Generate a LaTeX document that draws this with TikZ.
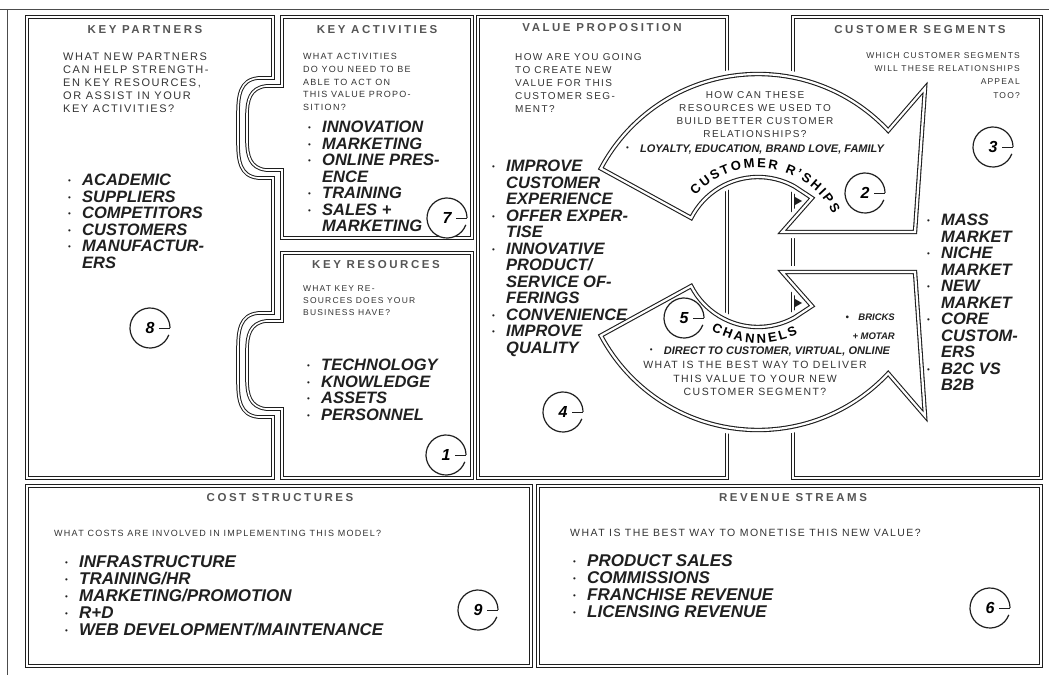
\documentclass[tikz,border=0pt]{standalone}
\usepackage{fontspec}
\setmainfont{Liberation Sans}
\newfontfamily\headfont[LetterSpace=22]{Liberation Sans}
\newfontfamily\handfont[LetterSpace=14]{Liberation Sans}
\usetikzlibrary{decorations.text}

\definecolor{cLine}{HTML}{1E1E1E}
\definecolor{cHead}{HTML}{555555}
\definecolor{cHand}{HTML}{333333}
\definecolor{cItem}{HTML}{202020}

\newcommand\bul{\makebox[14pt][l]{\raisebox{2pt}{\normalfont\fontsize{8}{8}\selectfont\textbullet}}}
\newcommand\nob{\hspace*{14pt}}
\newcommand\arcfont{\bfseries\fontsize{13}{13}\selectfont}

\tikzset{
  panel/.style={draw=cLine, line width=1pt, double=white, double distance=1.6pt},
  halo/.style={draw=white, fill=white, line width=12pt},
  band/.style={draw=cLine, fill=white, line width=1.1pt, double=white, double distance=2.2pt},
  frameline/.style={draw=black!70, line width=0.8pt},
  ttl/.style={font=\headfont\bfseries\fontsize{11.5}{12}\selectfont, text=cHead, inner sep=0pt},
  ask/.style args={#1/#2}{font=\handfont\fontsize{#1}{#2}\selectfont, text=cHand, align=left, inner sep=0pt, anchor=north west},
  items/.style={font=\bfseries\itshape\fontsize{16.5}{16.5}\selectfont, text=cItem, align=left, inner sep=0pt, anchor=north west},
  bigitems/.style={items, font=\bfseries\itshape\fontsize{17}{17.2}\selectfont},
  bandtext/.style={font=\bfseries\itshape\fontsize{11}{12}\selectfont, text=cItem, inner sep=0pt},
  stepno/.style={circle, minimum size=40pt, inner sep=0pt, font=\bfseries\itshape\fontsize{16}{16}\selectfont},
  stepring/.style={draw=cLine, line width=1.2pt},
}

% numbered ring: options, name, centre, number
\newcommand\stepmark[4][]{%
  \node[stepno, #1] (#2) at (#3) {#4};
  \draw[stepring] (#3) ++(20:20) arc[start angle=20, end angle=360, radius=20];
  \draw[stepring, line width=0.8pt] (#3) ++(9,0) -- ++(11,0);
}

\begin{document}
\begin{tikzpicture}[x=1pt, y=-1pt]
  \useasboundingbox (0,0) rectangle (1049,675);
  % page frame
  \draw[frameline] (0,9) -- (1049,9);
  \draw[frameline] (7,9) -- (7,675);

  % panels
  \draw[panel] (27,17) -- (273,17) -- (273,78) -- (258,78) .. controls (240,80) and (238,95) .. (238,115) -- (238,141) .. controls (238,161) and (240,176) .. (258,178) -- (273,178) -- (273,313) -- (258,313) .. controls (240,315) and (238,330) .. (238,350) -- (238,380) .. controls (238,400) and (240,415) .. (258,417) -- (273,417) -- (273,478) -- (27,478) -- cycle;
  \draw[panel] (282,17) -- (472,17) -- (472,238) -- (282,238) -- (282,170) -- (266,170) .. controls (250,168) and (247,156) .. (247,140) -- (247,116) .. controls (247,100) and (250,88) .. (266,86) -- (282,86) -- cycle;
  \draw[panel] (282,253) -- (472,253) -- (472,478) -- (282,478) -- (282,409) -- (266,409) .. controls (250,407) and (247,395) .. (247,379) -- (247,351) .. controls (247,335) and (250,323) .. (266,321) -- (282,321) -- cycle;
  \draw[panel] (478,17) rectangle (727,478);
  \draw[panel] (793,17) rectangle (1041,478);
  \draw[panel] (27,486) rectangle (531,666);
  \draw[panel] (538,486) rectangle (1041,666);

  % curved arrows
  \foreach \fl in {1,-1}
    \draw[band, preaction={halo}, shift={(758,252)}, yscale=\fl] (-152:178) arc[start angle=-152, end angle=-43, radius=178] -- (167,-164) -- (157,-20) -- (24,-20) -- (54,-54) -- (-61:75) arc[start angle=-61, end angle=-153, radius=75] -- cycle;
  \fill[cLine] (795,197) -- (802,201) -- (795,205) -- cycle;
  \fill[cLine] (795,299) -- (802,303) -- (795,307) -- cycle;
  \path[decorate, decoration={text along path, text={|\arcfont|CUSTOMER R'SHIPS}, text align=fit to path}] (758,252) ++(-138:84) arc[start angle=-138, end angle=-27, radius=84];
  \path[decorate, decoration={text along path, text={|\arcfont|CHANNELS}, text align=fit to path}] (758,252) ++(121:91) arc[start angle=121, end angle=64, radius=91];

  % titles
  \node[ttl] (kpTitle) at (145,30) {KEY PARTNERS};
  \node[ttl] (kaTitle) at (377,30) {KEY ACTIVITIES};
  \node[ttl] (krTitle) at (376,265) {KEY RESOURCES};
  \node[ttl] (vpTitle) at (602,28) {VALUE PROPOSITION};
  \node[ttl] (csTitle) at (920,30) {CUSTOMER SEGMENTS};
  \node[ttl] (costTitle) at (280,498) {COST STRUCTURES};
  \node[ttl] (revTitle) at (793,498) {REVENUE STREAMS};

  % questions
  \node[ask=11/13] (kpAsk) at (63,53) {WHAT NEW PARTNERS\\CAN HELP STRENGTH-\\EN KEY RESOURCES,\\OR ASSIST IN YOUR\\KEY ACTIVITIES?};
  \node[ask=9/12.8] (kaAsk) at (303,53) {WHAT ACTIVITIES\\DO YOU NEED TO BE\\ABLE TO ACT ON\\THIS VALUE PROPO-\\SITION?};
  \node[ask=8.5/12] (krAsk) at (303,285) {WHAT KEY RE-\\SOURCES DOES YOUR\\BUSINESS HAVE?};
  \node[ask=10/13] (vpAsk) at (515,53) {HOW ARE YOU GOING\\TO CREATE NEW\\VALUE FOR THIS\\CUSTOMER SEG-\\MENT?};
  \node[ask=8.5/13.3, anchor=north east, align=right] (csAsk) at (1020,52) {WHICH CUSTOMER SEGMENTS\\WILL THESE RELATIONSHIPS\\APPEAL\\TOO?};
  \node[ask=9/12] (costAsk) at (54,530) {WHAT COSTS ARE INVOLVED IN IMPLEMENTING THIS MODEL?};
  \node[ask=10.5/12] (revAsk) at (570,529) {WHAT IS THE BEST WAY TO MONETISE THIS NEW VALUE?};
  \node[ask=10/13, anchor=north, align=center] (crAsk) at (755,91) {HOW CAN THESE\\RESOURCES WE USED TO\\BUILD BETTER CUSTOMER\\RELATIONSHIPS?};
  \node[ask=10.5/13.5, anchor=north, align=center] (chAsk) at (755,361) {WHAT IS THE BEST WAY TO DELIVER\\THIS VALUE TO YOUR NEW\\CUSTOMER SEGMENT?};

  % answers
  \node[items] (kpList) at (68,174) {\bul ACADEMIC\\\bul SUPPLIERS\\\bul COMPETITORS\\\bul CUSTOMERS\\\bul MANUFACTUR-\\\nob ERS};
  \node[items] (kaList) at (308,121) {\bul INNOVATION\\\bul MARKETING\\\bul ONLINE PRES-\\\nob ENCE\\\bul TRAINING\\\bul SALES +\\\nob MARKETING};
  \node[items] (krList) at (307,359) {\bul TECHNOLOGY\\\bul KNOWLEDGE\\\bul ASSETS\\\bul PERSONNEL};
  \node[items] (vpList) at (492,160) {\bul IMPROVE\\\nob CUSTOMER\\\nob EXPERIENCE\\\bul OFFER EXPER-\\\nob TISE\\\bul INNOVATIVE\\\nob PRODUCT/\\\nob SERVICE OF-\\\nob FERINGS\\\bul CONVENIENCE\\\bul IMPROVE\\\nob QUALITY};
  \node[items] (csList) at (927,214) {\bul MASS\\\nob MARKET\\\bul NICHE\\\nob MARKET\\\bul NEW\\\nob MARKET\\\bul CORE\\\nob CUSTOM-\\\nob ERS\\\bul B2C VS\\\nob B2B};
  \node[bigitems] (costList) at (65,555) {\bul INFRASTRUCTURE\\\bul TRAINING/HR\\\bul MARKETING/PROMOTION\\\bul R+D\\\bul WEB DEVELOPMENT/MAINTENANCE};
  \node[bigitems] (revList) at (573,554) {\bul PRODUCT SALES\\\bul COMMISSIONS\\\bul FRANCHISE REVENUE\\\bul LICENSING REVENUE};
  \node[bandtext] (crList) at (755,150) {\bul LOYALTY, EDUCATION, BRAND LOVE, FAMILY};
  \node[bandtext] (chList) at (770,352) {\bul DIRECT TO CUSTOMER, VIRTUAL, ONLINE};
  \node[bandtext, font=\bfseries\itshape\fontsize{9.5}{19}\selectfont, anchor=north east, align=right] (chExtra) at (895,314) {\textbullet\quad BRICKS\\+ MOTAR};

  % numbered rings
  \stepmark{kpNo}{150,328}{8}
  \stepmark[fill=white]{kaNo}{447,218}{7}
  \stepmark{krNo}{446,455}{1}
  \stepmark{vpNo}{563,412}{4}
  \stepmark{csNo}{993,147}{3}
  \stepmark{crNo}{865,193}{2}
  \stepmark{chNo}{684,318}{5}
  \stepmark{costNo}{478,610}{9}
  \stepmark{revNo}{990,608}{6}
\end{tikzpicture}
\end{document}
